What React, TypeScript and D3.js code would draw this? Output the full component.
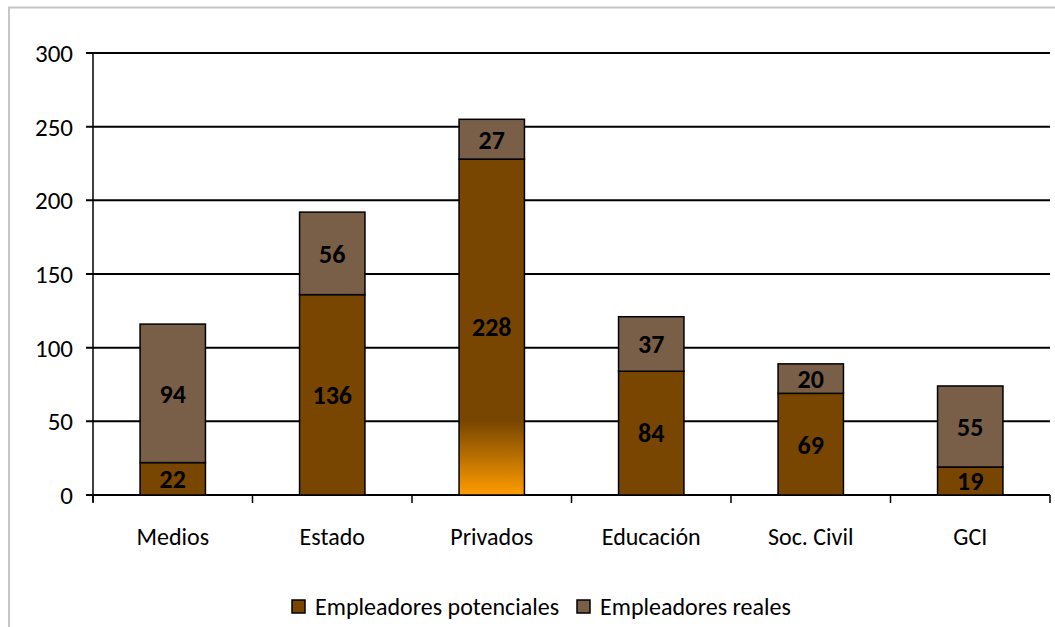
import React from "react";
import * as d3 from "d3";

const categories = ["Medios", "Estado", "Privados", "Educación", "Soc. Civil", "GCI"];
const potenciales = [22, 136, 228, 84, 69, 19];
const reales = [94, 56, 27, 37, 20, 55];
const yTicks = [0, 50, 100, 150, 200, 250, 300];
const seriesNames = ["Empleadores potenciales", "Empleadores reales"];

const W = 1055, H = 627;
const left = 93, right = 1050, top = 53, bottom = 495;
const FONT = "Carlito, Lato, 'Open Sans', sans-serif";
const C1 = "#784600";
const C2 = "#7a5f48";

export default function App() {
  const x = d3.scaleBand().domain(categories).range([left, right]).paddingInner(0.59).paddingOuter(0.295);
  const y = d3.scaleLinear().domain([0, 300]).range([bottom, top]);
  const step = (right - left) / categories.length;
  return (
    <svg width={W} height={H} style={{ position: "absolute", left: 0, top: 0, background: "#fff" }}>
      <defs>
        <linearGradient id="privGrad" x1="0" y1="0" x2="0" y2="1">
          <stop offset="0%" stopColor={C1} />
          <stop offset="78%" stopColor={C1} />
          <stop offset="100%" stopColor="#ff9c00" />
        </linearGradient>
      </defs>
      <rect x={9} y={7.5} width={1100} height={700} fill="none" stroke="#c6c6c6" strokeWidth={2} />
      {yTicks.map((t) => (
        <g key={t}>
          <line x1={left - 7} x2={right} y1={y(t)} y2={y(t)} stroke="#000" strokeWidth={2} />
          <text x={73} y={y(t)} dy="0.36em" textAnchor="end" fontFamily={FONT} fontSize={25}>{t}</text>
        </g>
      ))}
      <line x1={left} x2={left} y1={top} y2={bottom + 7} stroke="#000" strokeWidth={1.5} />
      {d3.range(categories.length + 1).map((i) => (
        <line key={i} x1={left + i * step} x2={left + i * step} y1={bottom} y2={bottom + 8} stroke="#000" strokeWidth={1.5} />
      ))}
      {categories.map((c, i) => {
        const bx = x(c)!;
        const bw = x.bandwidth();
        const p = potenciales[i];
        const r = reales[i];
        return (
          <g key={c}>
            <rect x={bx} y={y(p)} width={bw} height={y(0) - y(p)} fill={c === "Privados" ? "url(#privGrad)" : C1} stroke="#000" strokeWidth={1.5} />
            <rect x={bx} y={y(p + r)} width={bw} height={y(p) - y(p + r)} fill={C2} stroke="#000" strokeWidth={1.5} />
            <text x={bx + bw / 2} y={y(p / 2)} dy="0.36em" textAnchor="middle" fontFamily={FONT} fontWeight="bold" fontSize={26}>{p}</text>
            <text x={bx + bw / 2} y={y(p + r / 2)} dy="0.36em" textAnchor="middle" fontFamily={FONT} fontWeight="bold" fontSize={26}>{r}</text>
            <text x={bx + bw / 2} y={537} dy="0.35em" textAnchor="middle" fontFamily={FONT} fontSize={24}>{c}</text>
          </g>
        );
      })}
      {seriesNames.map((s, i) => {
        const lx = i === 0 ? 292 : 577;
        return (
          <g key={s}>
            <rect x={lx} y={600} width={13} height={13} fill={i === 0 ? C1 : C2} stroke="#000" strokeWidth={1.5} />
            <text x={lx + 23} y={607} dy="0.35em" fontFamily={FONT} fontSize={24}>{s}</text>
          </g>
        );
      })}
    </svg>
  );
}
